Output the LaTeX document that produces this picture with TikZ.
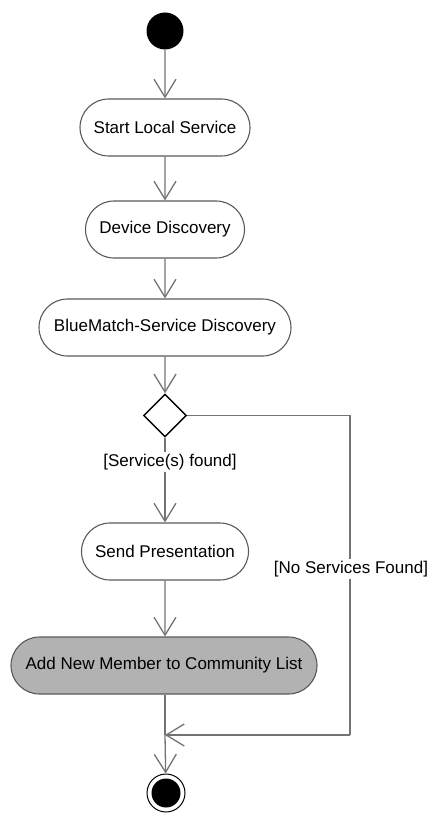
\documentclass[tikz,border=0pt]{standalone}
\usepackage{fontspec}
\setmainfont{Liberation Sans}
\usetikzlibrary{shapes.misc,shapes.geometric,arrows.meta}
\begin{document}
\begin{tikzpicture}[x=1pt,y=-1pt,
  act/.style={rounded rectangle, draw=black!65, line width=1.1pt, minimum height=57pt, inner sep=0pt, font=\fontsize{17}{20}\selectfont},
  flow/.style={draw=black!55, line width=1.3pt, -{Straight Barb[length=18pt,width=22pt,line width=1.3pt]}},
  plain/.style={draw=black!55, line width=1.3pt},
  guard/.style={fill=white, inner sep=2pt, font=\fontsize{17}{20}\selectfont}]
\useasboundingbox (0,0) rectangle (434,813);
\node[circle, fill=black, minimum size=37pt, inner sep=0pt] (start) at (165,31) {};
\node[act, minimum width=170pt] (sls) at (165,127.5) {Start Local Service};
\node[act, minimum width=159pt] (dd) at (165,229.5) {Device Discovery};
\node[act, minimum width=252pt] (bm) at (165,327.5) {BlueMatch-Service Discovery};
\node[diamond, draw=black, line width=1.4pt, minimum width=43pt, minimum height=43pt, inner sep=0pt, aspect=1] (dec) at (165,415.5) {};
\node[act, minimum width=167pt] (sp) at (165,551.5) {Send Presentation};
\node[act, minimum width=306pt, fill=black!30] (add) at (164,665.5) {Add New Member to Community List};
\coordinate (merge) at (165,735);
\coordinate (rc1) at (350,415.5);
\coordinate (rc2) at (350,735);
\node[circle, draw=black, line width=1pt, fill=white, minimum size=38pt, inner sep=0pt] (fin) at (166,793) {};
\node[circle, fill=black, minimum size=29pt, inner sep=0pt] (finin) at (fin) {};
\draw[flow] (start) -- (sls);
\draw[flow] (sls) -- (dd);
\draw[flow] (dd) -- (bm);
\draw[flow] (bm) -- (dec);
\draw[flow] (dec) -- (sp);
\draw[flow] (sp) -- (add.north -| sp.south);
\draw[plain] (add.south -| merge) -- (merge);
\draw[plain] (dec.east) -- (rc1) -- (rc2);
\draw[flow] (rc2) -- (merge);
\draw[flow] (merge) -- (fin);
\node[guard] (g1) at (170,462) {[Service(s) found]};
\node[guard] (g2) at (351,569) {[No Services Found]};
\end{tikzpicture}
\end{document}
